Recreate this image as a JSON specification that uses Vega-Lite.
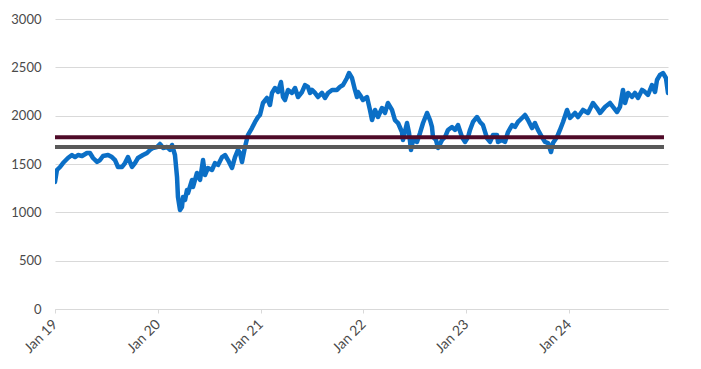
{
  "$schema": "https://vega.github.io/schema/vega-lite/v6.json",
  "autosize": {"type": "none"},
  "width": 613,
  "height": 290,
  "padding": {"left": 55, "top": 19, "right": 33, "bottom": 60},
  "background": "white",
  "config": {
    "view": {"stroke": null},
    "font": "Lato",
    "axis": {"labelFont": "Lato", "labelFontSize": 13, "labelColor": "#4A4A4A", "titleColor": "#4A4A4A"}
  },
  "datasets": {
    "series": [
      {"t":2019.000,"v":1314},{"t":2019.019,"v":1438},{"t":2019.049,"v":1469},{"t":2019.078,"v":1510},{"t":2019.126,"v":1562},{"t":2019.165,"v":1593},{"t":2019.195,"v":1572},{"t":2019.224,"v":1593},{"t":2019.263,"v":1583},{"t":2019.311,"v":1614},{"t":2019.340,"v":1614},{"t":2019.370,"v":1562},{"t":2019.409,"v":1521},{"t":2019.438,"v":1541},{"t":2019.467,"v":1583},{"t":2019.516,"v":1593},{"t":2019.554,"v":1572},{"t":2019.584,"v":1541},{"t":2019.613,"v":1469},{"t":2019.652,"v":1469},{"t":2019.681,"v":1510},{"t":2019.710,"v":1572},{"t":2019.749,"v":1469},{"t":2019.778,"v":1510},{"t":2019.807,"v":1562},{"t":2019.856,"v":1593},{"t":2019.895,"v":1614},{"t":2019.924,"v":1645},{"t":2019.953,"v":1666},{"t":2019.992,"v":1676},
      {"t":2020.021,"v":1707},{"t":2020.051,"v":1666},{"t":2020.089,"v":1676},{"t":2020.119,"v":1645},{"t":2020.138,"v":1697},{"t":2020.167,"v":1593},{"t":2020.187,"v":1366},{"t":2020.196,"v":1159},{"t":2020.216,"v":1024},{"t":2020.235,"v":1055},{"t":2020.245,"v":1159},{"t":2020.265,"v":1128},{"t":2020.284,"v":1231},{"t":2020.294,"v":1200},{"t":2020.333,"v":1335},{"t":2020.342,"v":1262},{"t":2020.381,"v":1407},{"t":2020.411,"v":1335},{"t":2020.440,"v":1541},{"t":2020.459,"v":1386},{"t":2020.488,"v":1459},{"t":2020.527,"v":1438},{"t":2020.556,"v":1510},{"t":2020.586,"v":1490},{"t":2020.625,"v":1572},{"t":2020.654,"v":1593},{"t":2020.683,"v":1541},{"t":2020.722,"v":1459},{"t":2020.751,"v":1572},{"t":2020.780,"v":1645},{"t":2020.800,"v":1614},{"t":2020.819,"v":1521},{"t":2020.848,"v":1676},{"t":2020.877,"v":1800},{"t":2020.916,"v":1872},{"t":2020.946,"v":1935},{"t":2020.975,"v":1986},{"t":2020.994,"v":2007},
      {"t":2021.023,"v":2131},{"t":2021.062,"v":2183},{"t":2021.091,"v":2110},{"t":2021.111,"v":2235},{"t":2021.140,"v":2286},{"t":2021.169,"v":2245},{"t":2021.198,"v":2348},{"t":2021.218,"v":2193},{"t":2021.237,"v":2162},{"t":2021.267,"v":2266},{"t":2021.305,"v":2235},{"t":2021.335,"v":2286},{"t":2021.364,"v":2193},{"t":2021.403,"v":2245},{"t":2021.432,"v":2317},{"t":2021.461,"v":2297},{"t":2021.481,"v":2235},{"t":2021.500,"v":2266},{"t":2021.529,"v":2235},{"t":2021.558,"v":2193},{"t":2021.597,"v":2235},{"t":2021.626,"v":2183},{"t":2021.656,"v":2235},{"t":2021.695,"v":2266},{"t":2021.743,"v":2266},{"t":2021.772,"v":2297},{"t":2021.802,"v":2317},{"t":2021.840,"v":2390},{"t":2021.860,"v":2441},{"t":2021.889,"v":2390},{"t":2021.918,"v":2266},{"t":2021.938,"v":2193},{"t":2021.947,"v":2245},{"t":2021.967,"v":2214},{"t":2021.996,"v":2162},
      {"t":2022.035,"v":2193},{"t":2022.064,"v":2059},{"t":2022.084,"v":1955},{"t":2022.113,"v":2059},{"t":2022.142,"v":1986},{"t":2022.181,"v":2079},{"t":2022.210,"v":2028},{"t":2022.239,"v":2131},{"t":2022.278,"v":2059},{"t":2022.307,"v":1955},{"t":2022.337,"v":1924},{"t":2022.375,"v":1831},{"t":2022.385,"v":1748},{"t":2022.424,"v":1924},{"t":2022.444,"v":1821},{"t":2022.463,"v":1645},{"t":2022.482,"v":1748},{"t":2022.521,"v":1728},{"t":2022.551,"v":1821},{"t":2022.580,"v":1924},{"t":2022.619,"v":2028},{"t":2022.648,"v":1955},{"t":2022.667,"v":1883},{"t":2022.677,"v":1779},{"t":2022.706,"v":1748},{"t":2022.726,"v":1666},{"t":2022.765,"v":1748},{"t":2022.794,"v":1779},{"t":2022.823,"v":1852},{"t":2022.862,"v":1883},{"t":2022.891,"v":1852},{"t":2022.920,"v":1903},{"t":2022.959,"v":1779},{"t":2022.988,"v":1728},
      {"t":2023.018,"v":1779},{"t":2023.037,"v":1852},{"t":2023.066,"v":1935},{"t":2023.105,"v":1986},{"t":2023.134,"v":1935},{"t":2023.163,"v":1903},{"t":2023.202,"v":1769},{"t":2023.232,"v":1728},{"t":2023.261,"v":1800},{"t":2023.300,"v":1800},{"t":2023.309,"v":1728},{"t":2023.348,"v":1748},{"t":2023.377,"v":1728},{"t":2023.407,"v":1831},{"t":2023.446,"v":1903},{"t":2023.475,"v":1883},{"t":2023.504,"v":1935},{"t":2023.543,"v":1976},{"t":2023.572,"v":2007},{"t":2023.601,"v":1955},{"t":2023.640,"v":1872},{"t":2023.669,"v":1924},{"t":2023.698,"v":1852},{"t":2023.737,"v":1779},{"t":2023.767,"v":1728},{"t":2023.796,"v":1717},{"t":2023.825,"v":1624},{"t":2023.844,"v":1717},{"t":2023.883,"v":1779},{"t":2023.912,"v":1852},{"t":2023.942,"v":1935},{"t":2023.981,"v":2059},
      {"t":2024.010,"v":1976},{"t":2024.058,"v":2028},{"t":2024.088,"v":1986},{"t":2024.136,"v":2059},{"t":2024.185,"v":2028},{"t":2024.233,"v":2131},{"t":2024.272,"v":2079},{"t":2024.302,"v":2028},{"t":2024.350,"v":2090},{"t":2024.399,"v":2131},{"t":2024.428,"v":2090},{"t":2024.467,"v":2038},{"t":2024.496,"v":2090},{"t":2024.525,"v":2266},{"t":2024.545,"v":2131},{"t":2024.574,"v":2235},{"t":2024.613,"v":2193},{"t":2024.642,"v":2235},{"t":2024.671,"v":2183},{"t":2024.710,"v":2266},{"t":2024.739,"v":2245},{"t":2024.768,"v":2214},{"t":2024.807,"v":2317},{"t":2024.837,"v":2245},{"t":2024.856,"v":2369},{"t":2024.885,"v":2421},{"t":2024.914,"v":2441},{"t":2024.943,"v":2390},{"t":2024.963,"v":2235}
    ],
    "levels": [
      {"name": "upper", "start": 2019.0, "end": 2024.924, "level": 1778},
      {"name": "lower", "start": 2019.0, "end": 2024.924, "level": 1676}
    ]
  },
  "layer": [
    {
      "data": {"name": "series"},
      "mark": {"type": "line", "color": "#0B6FC6", "strokeWidth": 4.5, "strokeJoin": "round", "strokeCap": "round", "clip": true},
      "encoding": {
        "x": {
          "field": "t", "type": "quantitative",
          "scale": {"domain": [2019, 2024.963], "nice": false, "zero": false},
          "axis": {
            "title": null, "values": [2019, 2020, 2021, 2022, 2023, 2024],
            "labelExpr": "'Jan ' + substring(toString(datum.value), 2)",
            "grid": false, "domain": true, "domainColor": "#D9D9D9", "domainWidth": 1,
            "ticks": true, "tickColor": "#D9D9D9", "tickSize": 4,
            "labelFontSize": 14,
            "labelAngle": -45, "labelAlign": "right", "labelBaseline": "middle", "labelPadding": 9
          }
        },
        "y": {
          "field": "v", "type": "quantitative",
          "scale": {"domain": [0, 3000], "nice": false},
          "axis": {
            "title": null, "values": [0, 500, 1000, 1500, 2000, 2500, 3000], "format": "d",
            "grid": true, "gridColor": "#D9D9D9", "gridWidth": 1,
            "domain": false, "ticks": false, "labelPadding": 14
          }
        }
      }
    },
    {
      "data": {"name": "levels"},
      "mark": {"type": "rule", "strokeWidth": 4},
      "encoding": {
        "x": {"field": "start", "type": "quantitative"},
        "x2": {"field": "end"},
        "y": {"field": "level", "type": "quantitative"},
        "color": {
          "field": "name", "type": "nominal",
          "scale": {"domain": ["upper", "lower"], "range": ["#4F0A28", "#595959"]},
          "legend": null
        }
      }
    }
  ]
}
